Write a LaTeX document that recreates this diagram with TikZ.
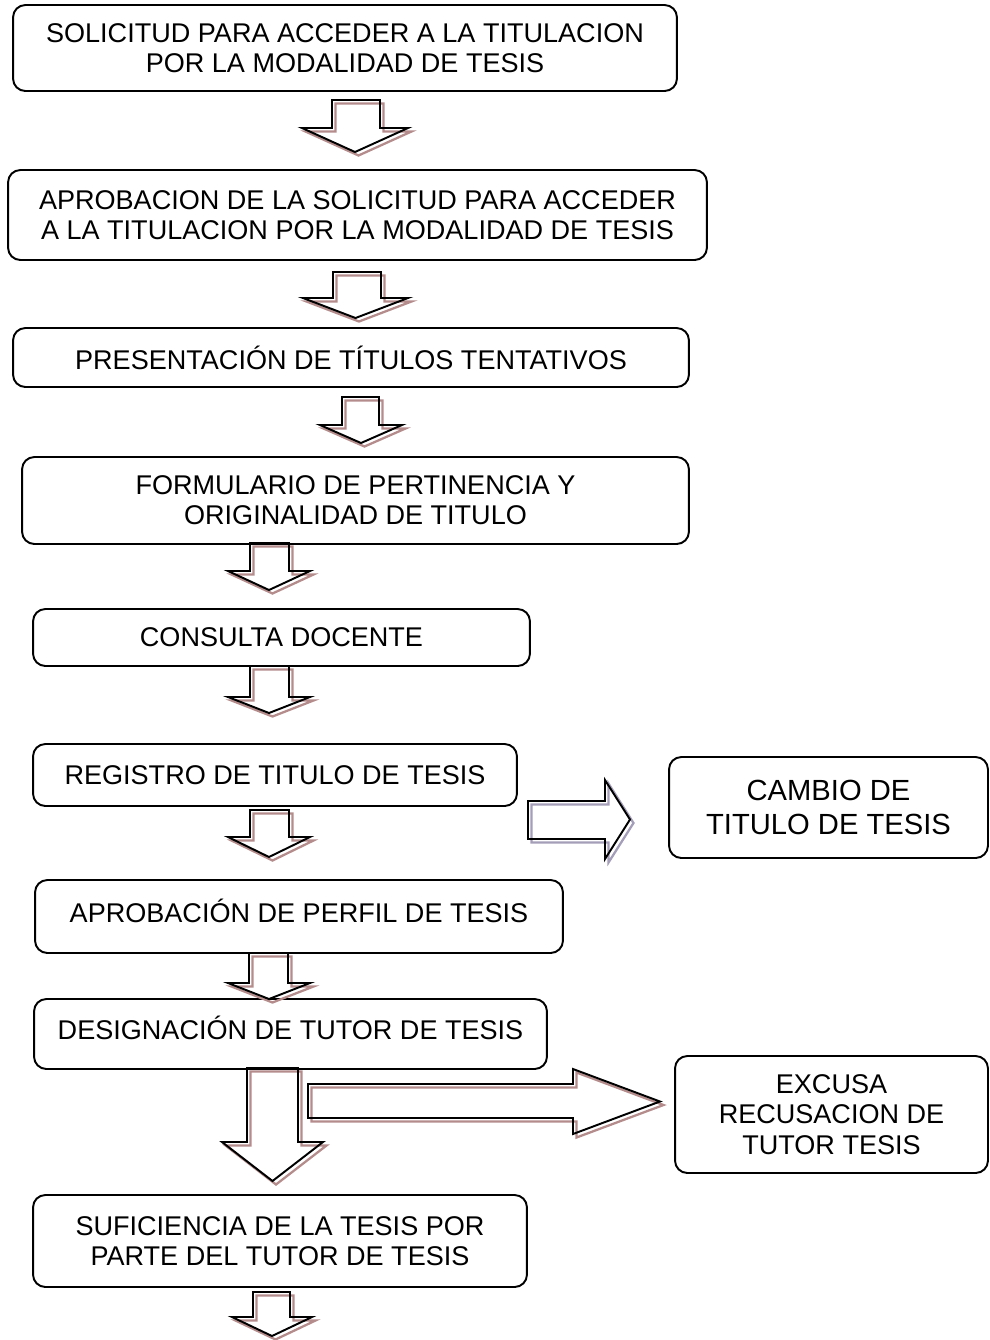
\documentclass[tikz,border=0pt]{standalone}
\usepackage{fontspec}
\setmainfont{Liberation Sans}
\definecolor{shadebrown}{RGB}{180,140,140}
\definecolor{shadegray}{RGB}{165,158,185}

\tikzstyle{stage} = [rectangle, rounded corners=7pt, draw=black, line width=1.1pt, align=center, inner sep=0pt, font=\fontsize{15.4}{17.2}\selectfont]
\tikzstyle{side} = [stage, font=\fontsize{16.6}{19}\selectfont]
\tikzstyle{blockline} = [line width=1.1pt, line join=miter]
\tikzstyle{blockshade} = [line width=1.3pt, line join=miter, shift={(3.5,3.5)}]

% block arrow pointing down: stem left, stem right, head left, head right, top, shoulder, tip
\newcommand{\blockdown}[8]{%
  \draw[blockshade, draw=#8] (#1,#5) -- (#2,#5) -- (#2,#6) -- (#4,#6) -- ({(#3+#4)/2},#7) -- (#3,#6) -- (#1,#6) -- cycle;
  \draw[blockline] (#1,#5) -- (#2,#5) -- (#2,#6) -- (#4,#6) -- ({(#3+#4)/2},#7) -- (#3,#6) -- (#1,#6) -- cycle;
}
% block arrow pointing right: stem top, stem bottom, head top, head bottom, left, shoulder, tip
\newcommand{\blockright}[8]{%
  \draw[blockshade, draw=#8] (#5,#1) -- (#6,#1) -- (#6,#3) -- (#7,{(#3+#4)/2}) -- (#6,#4) -- (#6,#2) -- (#5,#2) -- cycle;
  \draw[blockline] (#5,#1) -- (#6,#1) -- (#6,#3) -- (#7,{(#3+#4)/2}) -- (#6,#4) -- (#6,#2) -- (#5,#2) -- cycle;
}

\begin{document}
\begin{tikzpicture}[x=0.02cm, y=-0.02cm]
    \useasboundingbox (0,0) rectangle (990,1340);
	\node (Solicitud) at (345,48) [stage, minimum width=13.28cm, minimum height=1.72cm] {SOLICITUD PARA ACCEDER A LA TITULACION\\POR LA MODALIDAD DE TESIS};
	\node (Aprobacion) at (357.5,215) [stage, minimum width=13.98cm, minimum height=1.8cm] {APROBACION DE LA SOLICITUD PARA ACCEDER\\A LA TITULACION POR LA MODALIDAD DE TESIS};
	\node (Titulos) at (351,357.5) [stage, minimum width=13.52cm, minimum height=1.18cm] {PRESENTACIÓN DE TÍTULOS TENTATIVOS};
	\node (Formulario) at (355.5,500.5) [stage, minimum width=13.34cm, minimum height=1.74cm] {FORMULARIO DE PERTINENCIA Y\\ORIGINALIDAD DE TITULO};
	\node (Consulta) at (281.5,637.5) [stage, minimum width=9.94cm, minimum height=1.14cm] {CONSULTA DOCENTE};
	\node (Registro) at (275,775) [stage, minimum width=9.68cm, minimum height=1.24cm] {REGISTRO DE TITULO DE TESIS};
	\node (Cambio) at (828.5,807.5) [side, minimum width=6.38cm, minimum height=2.02cm] {CAMBIO DE\\TITULO DE TESIS};
	\node (Perfil) at (299,916.5) [stage, minimum width=10.56cm, minimum height=1.46cm] {\raisebox{6pt}{APROBACIÓN DE PERFIL DE TESIS}};
	\node (Tutor) at (290.5,1034) [stage, minimum width=10.26cm, minimum height=1.4cm] {\raisebox{7pt}{DESIGNACIÓN DE TUTOR DE TESIS}};
	\node (Excusa) at (831.5,1114.5) [stage, minimum width=6.26cm, minimum height=2.34cm] {EXCUSA\\RECUSACION DE\\TUTOR TESIS};
	\node (Suficiencia) at (280,1241) [stage, minimum width=9.88cm, minimum height=1.84cm] {SUFICIENCIA DE LA TESIS POR\\PARTE DEL TUTOR DE TESIS};
	\blockdown{332}{380}{302}{408}{100}{128}{152}{shadebrown}
	\blockdown{333}{381}{303}{408}{272}{298}{318}{shadebrown}
	\blockdown{342}{379}{320}{402}{397}{425}{443}{shadebrown}
	\blockdown{250}{289}{228}{310}{543}{571}{590}{shadebrown}
	\blockdown{250}{289}{228}{310}{666}{697}{713}{shadebrown}
	\blockdown{250}{289}{228}{310}{810}{837}{857}{shadebrown}
	\blockdown{249}{288}{228}{310}{953}{983}{999}{shadebrown}
	\blockdown{247}{298}{222}{323}{1068}{1142}{1181}{shadebrown}
	\blockdown{253}{290}{232}{312}{1292}{1317}{1336}{shadebrown}
	\blockright{801}{839}{780}{859}{528}{605}{630}{shadegray}
	\blockright{1084}{1118}{1069}{1134}{308}{573}{660}{shadebrown}
\end{tikzpicture}
\end{document}
